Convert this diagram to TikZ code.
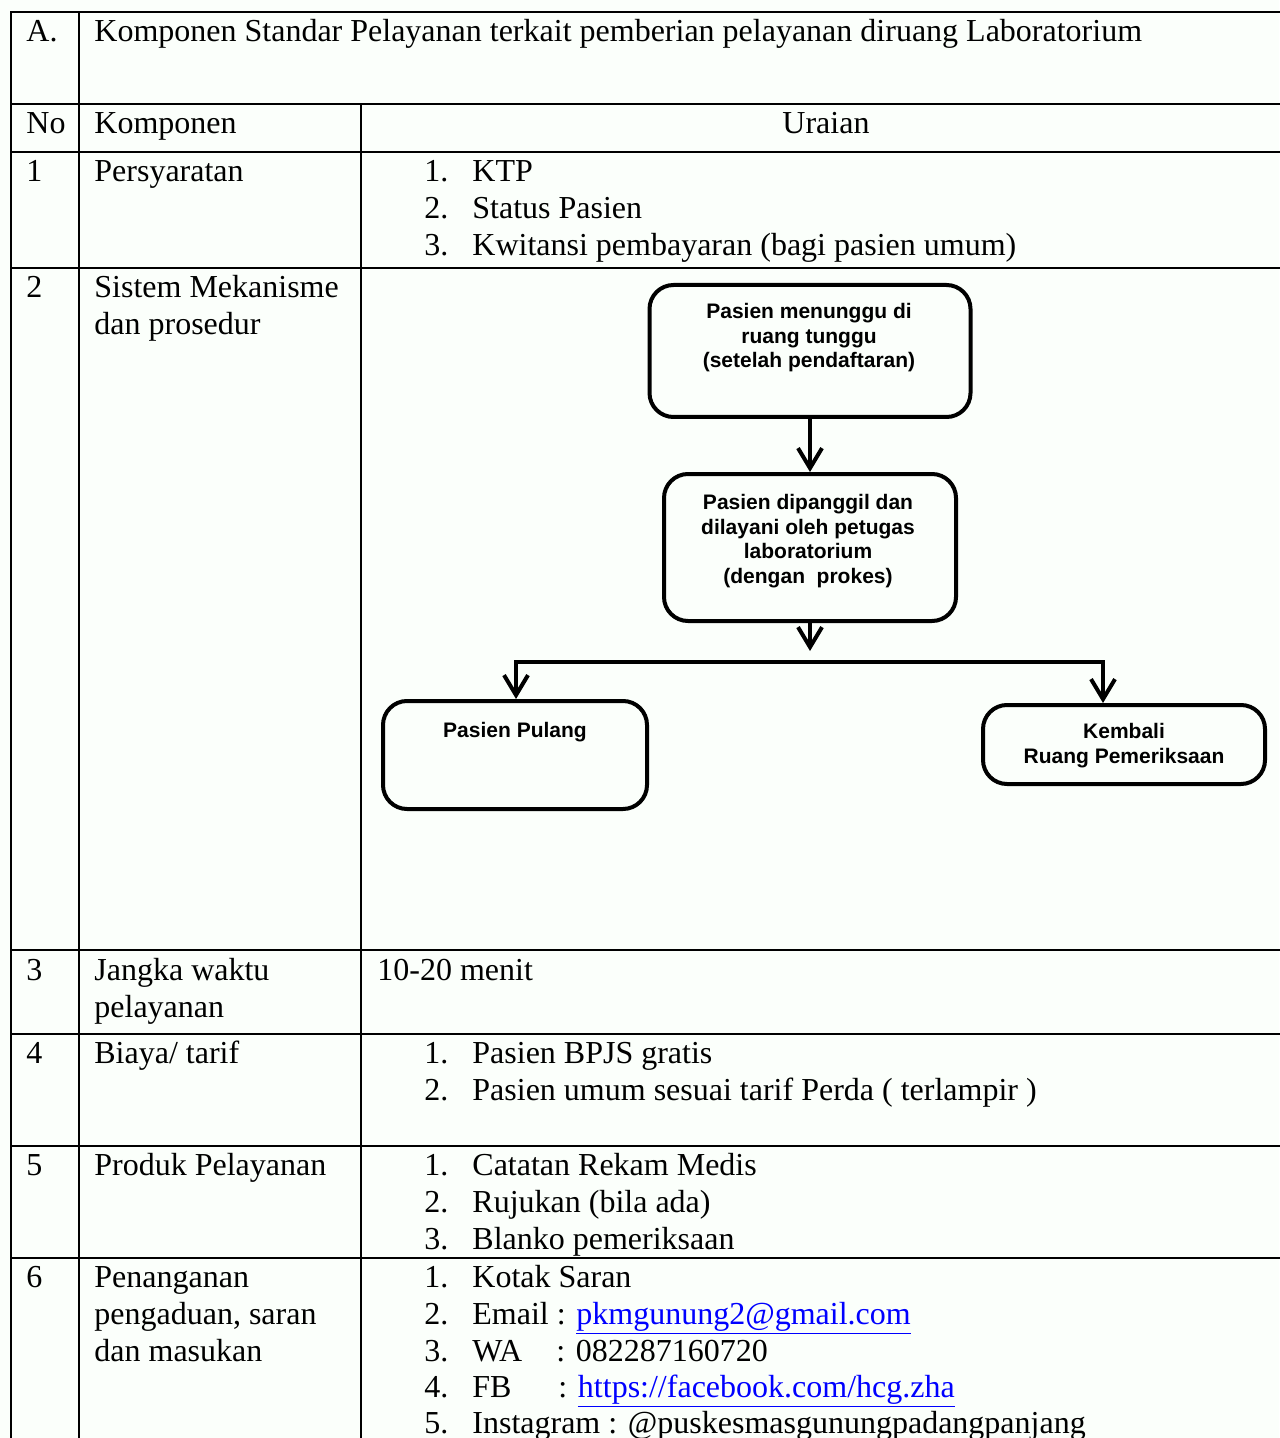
\documentclass[tikz,border=0pt]{standalone}
\usepackage{fontspec}
\setmainfont{Liberation Serif}
\newfontfamily\flowfont{Liberation Sans}
\usetikzlibrary{arrows.meta}
\definecolor{paper}{RGB}{251,255,251}
\definecolor{linkblue}{RGB}{0,0,255}
\newcommand{\lnk}[1]{\textcolor{linkblue}{\underline{#1}}}
\newcommand{\itm}[2]{\makebox[24pt][l]{#1}#2}
\begin{document}
\begin{tikzpicture}[x=0.5pt,y=-0.5pt,
    rule/.style={line width=1.2pt, line cap=rect},
    cell/.style={font=\fontsize{16}{18.5}\selectfont, anchor=base west, inner sep=0pt},
    flowbox/.style={draw, line width=2pt, rounded corners=12pt, inner sep=0pt},
    flowtxt/.style={font=\flowfont\bfseries\fontsize{10.5}{12.25}\selectfont, align=center, anchor=north, inner sep=0pt},
    flowarrow/.style={line width=2pt, -{Straight Barb[length=10pt,width=12pt,line width=2pt]}}]
    \fill[paper] (0,0) rectangle (1279,1438);
    \useasboundingbox (0,0) rectangle (1279,1438);
    % table rules
    \draw[rule] (11,12) -- (1279,12);
    \foreach \y in {104,152,268,950,1034,1146,1258}
        \draw[rule] (11,\y) -- (1279,\y);
    \draw[rule] (11,12) -- (11,1438);
    \draw[rule] (79,12) -- (79,1438);
    \draw[rule] (361,104) -- (361,1438);
    % header
    \node[cell] (hA) at (26,42) {A.};
    \node[cell] (hTitle) at (94,42) {Komponen Standar Pelayanan terkait pemberian pelayanan diruang Laboratorium};
    \node[cell] (hNo) at (26,134) {No};
    \node[cell] (hKomp) at (94,134) {Komponen};
    \node[cell, anchor=base] (hUraian) at (826,134) {Uraian};
    % 1
    \node[cell] (noA) at (26,182) {1};
    \node[cell] (kompA) at (94,182) {Persyaratan};
    \node[cell] (urA1) at (424,182) {\itm{1.}{KTP}};
    \node[cell] (urA2) at (424,219) {\itm{2.}{Status Pasien}};
    \node[cell] (urA3) at (424,256) {\itm{3.}{Kwitansi pembayaran (bagi pasien umum)}};
    % 2
    \node[cell] (noB) at (26,298) {2};
    \node[cell] (kompB1) at (94,298) {Sistem Mekanisme};
    \node[cell] (kompB2) at (94,335) {dan prosedur};
    % flow
    \node[flowbox, minimum width=160.5pt, minimum height=66pt] (tunggu) at (810,351) {};
    \node[flowtxt] (tungguTxt) at (809,303) {Pasien menunggu di\\ruang tunggu\\(setelah pendaftaran)};
    \node[flowbox, minimum width=146pt, minimum height=73.5pt] (layani) at (810,547.5) {};
    \node[flowtxt] (layaniTxt) at (808,494) {Pasien dipanggil dan\\dilayani oleh petugas\\laboratorium\\(dengan\ \ prokes)};
    \node[flowbox, minimum width=132pt, minimum height=54pt] (pulang) at (515,755) {};
    \node[flowtxt] (pulangTxt) at (515,722) {Pasien Pulang};
    \node[flowbox, minimum width=141pt, minimum height=39.5pt] (kembali) at (1124,744.5) {};
    \node[flowtxt] (kembaliTxt) at (1124,723) {Kembali\\Ruang Pemeriksaan};
    \coordinate (split) at (810,651);
    \coordinate (barL) at (516,662);
    \coordinate (barR) at (1103,662);
    \draw[flowarrow] (tunggu.south) -- (layani.north);
    \draw[flowarrow] (layani.south) -- (split);
    \draw[flowarrow, {Straight Barb[length=10pt,width=12pt,line width=2pt]}-{Straight Barb[length=10pt,width=12pt,line width=2pt]}]
        (barL |- pulang.north) -- (barL) -- (barR) -- (barR |- kembali.north);
    % 3
    \node[cell] (noC) at (26,980) {3};
    \node[cell] (kompC1) at (94,980) {Jangka waktu};
    \node[cell] (kompC2) at (94,1017) {pelayanan};
    \node[cell] (urC) at (377,980) {10-20 menit};
    % 4
    \node[cell] (noD) at (26,1063) {4};
    \node[cell] (kompD) at (94,1063) {Biaya/ tarif};
    \node[cell] (urD1) at (424,1063) {\itm{1.}{Pasien BPJS gratis}};
    \node[cell] (urD2) at (424,1100) {\itm{2.}{Pasien umum sesuai tarif Perda ( terlampir )}};
    % 5
    \node[cell] (noE) at (26,1175) {5};
    \node[cell] (kompE) at (94,1175) {Produk Pelayanan};
    \node[cell] (urE1) at (424,1175) {\itm{1.}{Catatan Rekam Medis}};
    \node[cell] (urE2) at (424,1212) {\itm{2.}{Rujukan (bila ada)}};
    \node[cell] (urE3) at (424,1249) {\itm{3.}{Blanko pemeriksaan}};
    % 6
    \node[cell] (noF) at (26,1287) {6};
    \node[cell] (kompF1) at (94,1287) {Penanganan};
    \node[cell] (kompF2) at (94,1324) {pengaduan, saran};
    \node[cell] (kompF3) at (94,1361) {dan masukan};
    \node[cell] (urF1) at (424,1287) {\itm{1.}{Kotak Saran}};
    \node[cell] (urF2) at (424,1324) {\itm{2.}{Email : \lnk{pkmgunung2@gmail.com}}};
    \node[cell] (urF3) at (424,1361) {\itm{3.}{\makebox[42pt][l]{WA}: 082287160720}};
    \node[cell] (urF4) at (424,1397) {\itm{4.}{\makebox[43pt][l]{FB}: \lnk{https://facebook.com/hcg.zha}}};
    \node[cell] (urF5) at (424,1433) {\itm{5.}{Instagram : @puskesmasgunungpadangpanjang}};
\end{tikzpicture}
\end{document}
